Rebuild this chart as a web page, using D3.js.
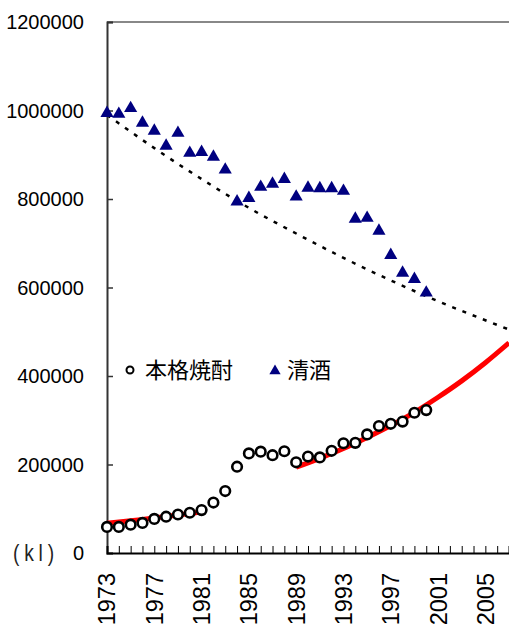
<!DOCTYPE html>
<html><head><meta charset="utf-8">
<script src="https://cdn.jsdelivr.net/npm/d3@7"></script>
<style>
html,body{margin:0;padding:0;background:#fff;}
svg{display:block;font-family:Arial,"Liberation Sans",sans-serif;}
</style></head>
<body>
<svg id="c" width="509" height="624"></svg>
<script>
// ---- data (kl) ----
const years = d3.range(1973, 2001);
const shochu = [59000,59000,64000,68000,77000,82000,87000,91000,97000,114000,140000,195000,225000,229000,221000,230000,205000,218000,216000,231000,248000,249000,268000,287000,292000,297000,317000,323000];
const sake = [994000,992000,1005000,972000,954000,920000,949000,904000,906000,895000,866000,794000,802000,827000,834000,845000,805000,825000,824000,824000,818000,755000,757000,728000,673000,633000,619000,588000];
// trend lines
const sakeTrendYears = [1973,1977,1981,1985,1989,1993,1997,2001,2005,2007];
const sakeTrend = [990000,915000,845000,780000,722000,667000,616000,569000,526000,505000];
const shochuTrend1Years = [1973,1975,1977,1979,1981];
const shochuTrend1 = [67000,73000,79000,86000,93000];
const shochuTrend2Years = [1989,1991,1993,1995,1997,1999,2001,2003,2005,2007];
const shochuTrend2 = [194000,214000,236000,261000,288000,318000,352000,389000,430000,475000];
const yTicks = [0,200000,400000,600000,800000,1000000,1200000];
const xLabelYears = [1973,1977,1981,1985,1989,1993,1997,2001,2005];
const seriesNames = ["本格焼酎","清酒"];

const svg = d3.select("#c");
const x = d3.scaleLinear().domain([1973,2007]).range([107,509]);
const y = d3.scaleLinear().domain([0,1200000]).range([553,22]);

// top border
svg.append("line").attr("x1",107).attr("x2",509).attr("y1",y(1200000)).attr("y2",y(1200000))
  .attr("stroke","#888").attr("stroke-width",2);

// y axis
const ya = svg.append("g").attr("transform","translate(107,0)")
  .call(d3.axisRight(y).tickValues(yTicks).tickSize(6).tickFormat(""));
ya.select(".domain").attr("stroke","#333").attr("stroke-width",2);
ya.selectAll(".tick line").attr("stroke","#333").attr("stroke-width",1.5);
svg.append("g").selectAll("text").data(yTicks).join("text")
  .attr("x",84).attr("y",d=>y(d)).attr("dy","0.35em").attr("text-anchor","end")
  .attr("font-size",20).attr("fill","#000").text(d=>d);

// x axis
const xa = svg.append("g").attr("transform","translate(0,553)")
  .call(d3.axisTop(x).tickValues(d3.range(1973,2008)).tickSize(7).tickFormat(""));
xa.select(".domain").attr("stroke","#000").attr("stroke-width",2);
xa.selectAll(".tick line").attr("stroke","#000").attr("stroke-width",1);
svg.append("g").selectAll("text").data(xLabelYears).join("text")
  .attr("transform",d=>`translate(${x(d)},573) rotate(-90)`)
  .attr("dy","0.36em").attr("text-anchor","end")
  .attr("font-size",23.5).attr("fill","#000").text(d=>d);

// unit label
svg.append("text").attr("transform","translate(13,553) scale(0.8,1)").attr("dy","0.35em")
  .attr("font-size",24).attr("letter-spacing","6px").attr("fill","#222")
  .text("(kl)");

// trend lines
const line = d3.line().x(d=>x(d[0])).y(d=>y(d[1])).curve(d3.curveMonotoneX);
svg.append("path").datum(sakeTrendYears.map((d,i)=>[d,sakeTrend[i]]))
  .attr("d",line).attr("fill","none").attr("stroke","#000").attr("stroke-width",2.5)
  .attr("stroke-dasharray","4,7");
svg.append("path").datum(shochuTrend1Years.map((d,i)=>[d,shochuTrend1[i]]))
  .attr("d",line).attr("fill","none").attr("stroke","#f00").attr("stroke-width",5);
svg.append("path").datum(shochuTrend2Years.map((d,i)=>[d,shochuTrend2[i]]))
  .attr("d",line).attr("fill","none").attr("stroke","#f00").attr("stroke-width",5);

// sake triangles
const tri = d3.symbol().type(d3.symbolTriangle).size(75);
svg.append("g").selectAll("path").data(years.map((d,i)=>[d,sake[i]])).join("path")
  .attr("d",tri).attr("transform",d=>`translate(${x(d[0])},${y(d[1])})`)
  .attr("fill","#000080");

// shochu circles
svg.append("g").selectAll("circle").data(years.map((d,i)=>[d,shochu[i]])).join("circle")
  .attr("cx",d=>x(d[0])).attr("cy",d=>y(d[1])).attr("r",4.8)
  .attr("fill","#fff").attr("stroke","#000").attr("stroke-width",2.6);

// legend
const lg = svg.append("g");
lg.append("circle").attr("cx",130).attr("cy",370).attr("r",3.5)
  .attr("fill","#fff").attr("stroke","#000").attr("stroke-width",2);
lg.append("text").attr("x",145).attr("y",370).attr("dy","0.36em").attr("font-size",22)
  .attr("font-family","'Noto Sans CJK JP',sans-serif").text(seriesNames[0]);
lg.append("path").attr("d",d3.symbol().type(d3.symbolTriangle).size(55))
  .attr("transform","translate(275,371)").attr("fill","#000080");
lg.append("text").attr("x",287).attr("y",370).attr("dy","0.36em").attr("font-size",22)
  .attr("font-family","'Noto Sans CJK JP',sans-serif").text(seriesNames[1]);
</script>
</body></html>
